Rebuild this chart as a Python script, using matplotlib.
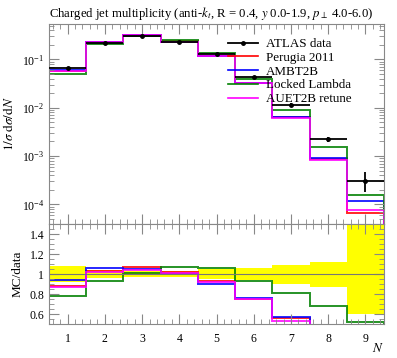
import numpy as np
import matplotlib
matplotlib.use('Agg')
import matplotlib.pyplot as plt
from matplotlib.lines import Line2D
from matplotlib.ticker import MultipleLocator, FixedLocator, FixedFormatter, LogLocator

plt.rcParams['font.family'] = ['Liberation Serif', 'DejaVu Serif']
plt.rcParams['mathtext.fontset'] = 'stix'

# ==== values
n_bins = [1, 2, 3, 4, 5, 6, 7, 8, 9]
data = [0.065, 0.22, 0.30, 0.23, 0.127, 0.043, 0.0113, 0.0022, 0.00030]
err_up = [0.08, 0.04, 0.03, 0.03, 0.05, 0.06, 0.09, 0.12, 0.55]     # relative
err_dn = [0.08, 0.04, 0.03, 0.03, 0.05, 0.06, 0.10, 0.13, 0.40]     # relative

perugia = [0.0575, 0.2266, 0.3213, 0.2362, 0.1180, 0.0324, 0.00633, 0.00085, 6.7e-5]
ambt2b = [0.0615, 0.2328, 0.3153, 0.2300, 0.1149, 0.0327, 0.00652, 0.00089, 1.16e-4]
locked = [0.0510, 0.2059, 0.3051, 0.2463, 0.1344, 0.0402, 0.00915, 0.00151, 1.56e-4]
auet2b = [0.0569, 0.2253, 0.3123, 0.2339, 0.1167, 0.0325, 0.00602, 0.00083, 7.5e-5]

mc_names = ['Perugia 2011', 'AMBT2B', 'Locked Lambda', 'AUET2B retune']
mc_colors = ['red', 'blue', 'green', 'magenta']
mc_values = [perugia, ambt2b, locked, auet2b]

title = r'Charged jet multiplicity (anti-$k_t$, R = 0.4, $y$ 0.0-1.9, $p_\perp$ 4.0-6.0)'

x = np.array(n_bins, dtype=float)
edges = np.append(x - 0.5, x[-1] + 0.5)
data = np.array(data)
up = np.array(err_up)
dn = np.array(err_dn)

fig = plt.figure(figsize=(3.97, 3.58), dpi=100)
ax = fig.add_axes([0.1234, 0.374, 0.844, 0.559])
rax = fig.add_axes([0.1234, 0.094, 0.844, 0.280], sharex=ax)

tick_col = '#888888'
for a in (ax, rax):
  for s in a.spines.values():
    s.set_color(tick_col)
  a.tick_params(which='both', direction='in', top=True, right=True, colors=tick_col,
                labelcolor='black', labelsize=8.5)
  a.tick_params(which='major', length=7)
  a.tick_params(which='minor', length=3.5)
  a.xaxis.set_major_locator(MultipleLocator(1))
  a.xaxis.set_minor_locator(MultipleLocator(0.2))

# ==== main plot
for vals, col in zip(mc_values, mc_colors):
  ax.stairs(vals, edges, color=col, lw=1.4, alpha=0.85)
ax.errorbar(x, data, xerr=0.5, yerr=[data * dn, data * up], fmt='o', color='black',
            ms=2.5, lw=1.3, capsize=0, zorder=5)
ax.set_yscale('log')
ax.set_ylim(3.9e-5, 0.54)
ax.set_xlim(0.5, 9.5)
ax.yaxis.set_minor_locator(LogLocator(base=10, subs=np.arange(2, 10)))
ax.tick_params(axis='x', labelbottom=False)
ax.set_ylabel(r'$1/\sigma\;\mathrm{d}\sigma/\mathrm{d}N$', fontsize=9.5)
ax.set_title(title, fontsize=9.2, loc='left', pad=5)

handles = [Line2D([], [], color='black', lw=1.3, marker='o', ms=2.5)]
handles += [Line2D([], [], color=c, lw=1.2) for c in mc_colors]
ax.legend(handles, ['ATLAS data'] + mc_names, loc='upper left',
          bbox_to_anchor=(0.52, 0.955), frameon=False, fontsize=9.4,
          handlelength=2.3, handletextpad=0.6, labelspacing=0.12, borderaxespad=0.0)

# ==== ratio plot
rax.stairs(1 + up, edges, baseline=1 - dn, fill=True, color='yellow', lw=0)
rax.axhline(1, color='#777777', lw=0.8)
for vals, col in zip(mc_values, mc_colors):
  rax.stairs(np.array(vals) / data, edges, color=col, lw=1.4, alpha=0.85)
rax.set_ylim(0.5, 1.5)
rax.yaxis.set_major_locator(FixedLocator([0.6, 0.8, 1.0, 1.2, 1.4]))
rax.yaxis.set_major_formatter(FixedFormatter(['0.6', '0.8', '1', '1.2', '1.4']))
rax.yaxis.set_minor_locator(MultipleLocator(0.05))
rax.set_ylabel('MC/data', fontsize=9.5)
rax.set_xlabel('$N$', fontsize=9.5, loc='right', labelpad=-2)
rax.tick_params(axis='x', pad=6)

fig.savefig('out.png', dpi=100)
